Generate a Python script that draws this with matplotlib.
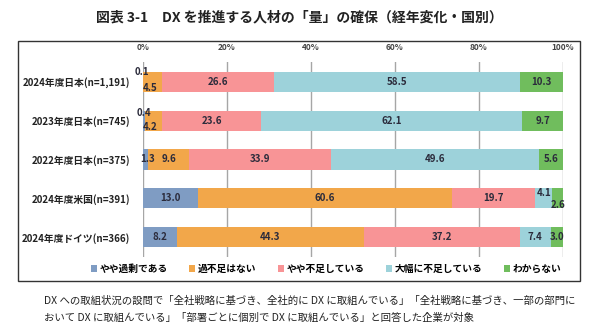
import matplotlib
matplotlib.use("Agg")
import matplotlib.pyplot as plt
from matplotlib.patches import Rectangle, Patch

plt.rcParams['font.family'] = ['Noto Sans CJK JP', 'DejaVu Sans']

# data
categories = ["2024年度日本(n=1,191)", "2023年度日本(n=745)", "2022年度日本(n=375)",
              "2024年度米国(n=391)", "2024年度ドイツ(n=366)"]
series_names = ["やや過剰である", "過不足はない", "やや不足している", "大幅に不足している", "わからない"]
over = [0.1, 0.4, 1.3, 13.0, 8.2]
enough = [4.5, 4.2, 9.6, 60.6, 44.3]
slightly_short = [26.6, 23.6, 33.9, 19.7, 37.2]
very_short = [58.5, 62.1, 49.6, 4.1, 7.4]
unknown = [10.3, 9.7, 5.6, 2.6, 3.0]
colors = ["#7f9cc3", "#f2a74a", "#f89496", "#9dd2da", "#70bd5d"]

series = [over, enough, slightly_short, very_short, unknown]

W, H = 614, 334
fig = plt.figure(figsize=(W / 100, H / 100), dpi=100)

# outer frame
fig.add_artist(Rectangle((18 / W, 1 - 281 / H), 562 / W, 240 / H, transform=fig.transFigure,
                         fill=False, edgecolor="#333333", linewidth=1.0))

ax = fig.add_axes([143 / W, 1 - 257 / H, 420 / W, 195 / H])
ypos = list(range(len(categories)))
left = [0.0] * len(categories)
for vals, c, name in zip(series, colors, series_names):
    ax.barh(ypos, vals, left=left, height=0.52, color=c, label=name, zorder=2)
    left = [l + v for l, v in zip(left, vals)]

# value labels, small segments handled separately below
txt = dict(fontsize=7, fontweight="bold", color="#2b2b3b", zorder=3)
manual = {(0, 0), (0, 1), (1, 0), (1, 1), (2, 0), (3, 3), (3, 4)}
for i in range(len(categories)):
    start = 0.0
    for j, vals in enumerate(series):
        v = vals[i]
        cx = start + v / 2
        start += v
        if (i, j) not in manual:
            ax.text(cx, i, f"{v:.1f}", ha="center", va="center", **txt)

ax.text(-0.3, -0.24, f"{over[0]:.1f}", ha="center", va="center", **txt)
ax.text(1.6, 0.15, f"{enough[0]:.1f}", ha="center", va="center", **txt)
ax.text(0.2, 0.80, f"{over[1]:.1f}", ha="center", va="center", **txt)
ax.text(1.6, 1.16, f"{enough[1]:.1f}", ha="center", va="center", **txt)
ax.text(1.2, 2, f"{over[2]:.1f}", ha="center", va="center", **txt)
ax.text(95.5, 2.87, f"{very_short[3]:.1f}", ha="center", va="center", **txt)
ax.text(98.9, 3.18, f"{unknown[3]:.1f}", ha="center", va="center", **txt)

ax.set_xlim(0, 100)
ax.set_ylim(4.51, -0.51)
ax.set_xticks([0, 20, 40, 60, 80, 100])
ax.set_xticklabels(["0%", "20%", "40%", "60%", "80%", "100%"], fontsize=6, fontweight="bold",
                   color="#444444")
ax.xaxis.tick_top()
ax.tick_params(axis="x", length=0, pad=7)
ax.set_yticks(ypos)
ax.set_yticklabels(categories, fontsize=7, fontweight="bold", color="#222222")
ax.tick_params(axis="y", length=0, pad=9)
ax.grid(axis="x", color="#a6a6a6", linewidth=1.0, zorder=0)
for s in ax.spines.values():
    s.set_visible(False)

handles = [Patch(facecolor=c, edgecolor="none") for c in colors]
fig.legend(handles, series_names, loc="center", bbox_to_anchor=(326 / W, 1 - 269 / H), ncol=5,
           frameon=False, handlelength=0.6, handleheight=0.6, handletextpad=0.3,
           columnspacing=2.2, prop={"size": 7, "weight": "bold"})

fig.text(299 / W, 1 - 17 / H, "図表 3-1　DX を推進する人材の「量」の確保（経年変化・国別）",
         ha="center", va="center", fontsize=10, fontweight="bold", color="#222222")

fig.text(44 / W, 1 - 301 / H,
         "DX への取組状況の設問で「全社戦略に基づき、全社的に DX に取組んでいる」「全社戦略に基づき、一部の部門に",
         ha="left", va="center", fontsize=7.5, color="#222222")
fig.text(44 / W, 1 - 318 / H,
         "おいて DX に取組んでいる」「部署ごとに個別で DX に取組んでいる」と回答した企業が対象",
         ha="left", va="center", fontsize=7.5, color="#222222")

fig.savefig("out.png", dpi=100)
